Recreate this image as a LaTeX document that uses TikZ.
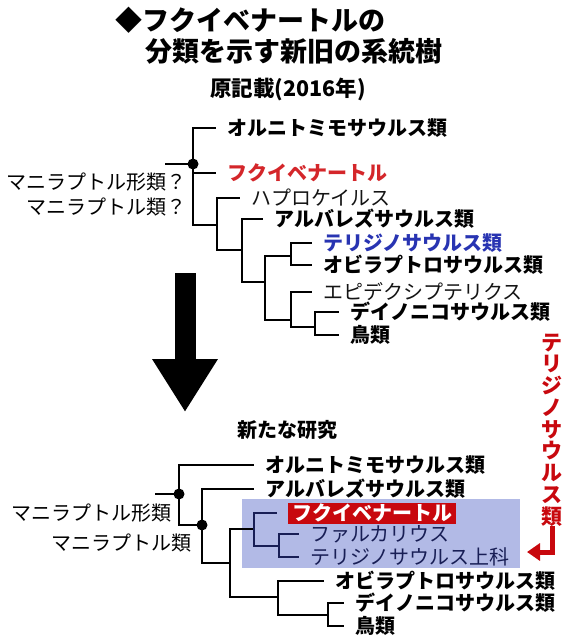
\documentclass[tikz,border=0pt]{standalone}
\usepackage{fontspec}
\setmainfont{Noto Sans CJK JP}
\usetikzlibrary{arrows.meta}

\definecolor{fukured}{RGB}{212,38,42}
\definecolor{boxred}{RGB}{200,8,14}
\definecolor{therblue}{RGB}{40,52,178}
\definecolor{boxblue}{RGB}{178,186,230}
\definecolor{navy}{RGB}{24,30,85}
\definecolor{softblack}{RGB}{20,20,20}

\newcommand{\txtsz}{\fontsize{20}{24}\selectfont}

\begin{document}
\begin{tikzpicture}[x=1pt, y=-1pt,
  branch/.style={line width=1.5pt},
  toleaf/.style={branch, shorten >=11pt},
  leaf/.style={anchor=west, inner sep=0pt, font=\txtsz},
  clade/.style={leaf, font=\txtsz\bfseries},
  side/.style={anchor=east, inner sep=0pt, font=\txtsz},
  dot/.style={circle, fill=black, inner sep=0pt, minimum size=11pt}
]
\useasboundingbox (0,0) rectangle (574,640);

% title
\node[anchor=west, inner sep=0pt, font=\fontsize{27}{30}\selectfont\bfseries] (title1) at (115,20) {◆フクイベナートルの};
\node[anchor=west, inner sep=0pt, font=\fontsize{27}{30}\selectfont\bfseries] (title2) at (145,51) {分類を示す新旧の系統樹};
\node[inner sep=0pt, font=\fontsize{21.5}{24}\selectfont\bfseries] (old) at (288,89) {原記載(2016年)};

% --- old tree
\coordinate (r0) at (165,164);
\coordinate (a0) at (193,164);
\coordinate (a1) at (217,225);
\coordinate (a2) at (242,250);
\coordinate (a3) at (265,282);
\coordinate (a4) at (291,256);
\coordinate (a5) at (291,320);
\coordinate (a6) at (315,327);

\node[clade] (L1) at (227,128) {オルニトミモサウルス類};
\node[clade, text=fukured] (L2) at (227,173) {フクイベナートル};
\node[leaf, text=softblack] (L3) at (251,198) {ハプロケイルス};
\node[clade] (L4) at (274,219) {アルバレズサウルス類};
\node[clade, text=therblue] (L5) at (323,243) {テリジノサウルス類};
\node[clade] (L6) at (323,265) {オビラプトロサウルス類};
\node[leaf, text=softblack] (L7) at (323,292) {エピデクシプテリクス};
\node[clade] (L8) at (350,312) {デイノニコサウルス類};
\node[clade] (L9) at (350,335) {鳥類};

\draw[branch] (r0) -- (a0);
\draw[toleaf] (a0) |- (L1.west);
\draw[toleaf] (a0) |- (L2.west);
\draw[branch] (a0) |- (a1);
\draw[toleaf] (a1) |- (L3.west);
\draw[branch] (a1) |- (a2);
\draw[toleaf] (a2) |- (L4.west);
\draw[branch] (a2) |- (a3);
\draw[branch] (a3) |- (a4);
\draw[branch] (a3) |- (a5);
\draw[toleaf] (a4) |- (L5.west);
\draw[toleaf] (a4) |- (L6.west);
\draw[toleaf] (a5) |- (L7.west);
\draw[branch] (a5) |- (a6);
\draw[toleaf] (a6) |- (L8.west);
\draw[toleaf] (a6) |- (L9.west);
\node[dot] at (a0) {};

\node[side] (maniform1) at (187,182) {マニラプトル形類？};
\node[side] (mani1) at (187,207) {マニラプトル類？};

% big arrow
\coordinate (bigtop) at (185,273);
\coordinate (bigtip) at (185,412);
\draw[line width=21pt, -{Triangle[length=53pt,width=62pt]}] (bigtop) -- (bigtip);

% --- new tree
\node[inner sep=0pt, font=\txtsz\bfseries] (new) at (287,430) {新たな研究};

\fill[boxblue] (242,499) rectangle (520,568);

\coordinate (r1) at (155,494);
\coordinate (b0) at (179,494);
\coordinate (b1) at (202,525);
\coordinate (b2) at (230,563);
\coordinate (b3) at (254,529);
\coordinate (b4) at (278,597);
\coordinate (b5) at (279,546);
\coordinate (b6) at (328,615);

\node[clade] (M1) at (265,465) {オルニトミモサウルス類};
\node[clade] (M2) at (265,489) {アルバレズサウルス類};
\node[anchor=west, fill=boxred, text=white, inner xsep=4pt, inner ysep=0pt,
  minimum height=21pt, font=\txtsz\bfseries] (M3) at (288,513) {フクイベナートル};
\node[leaf, text=navy] (M4) at (310,534) {ファルカリウス};
\node[leaf, text=navy] (M5) at (310,557) {テリジノサウルス上科};
\node[clade] (M6) at (335,581) {オビラプトロサウルス類};
\node[clade] (M7) at (355,603) {デイノニコサウルス類};
\node[clade] (M8) at (355,626) {鳥類};

\draw[branch] (r1) -- (b0);
\draw[toleaf] (b0) |- (M1.west);
\draw[branch] (b0) |- (b1);
\draw[toleaf] (b1) |- (M2.west);
\draw[branch] (b1) |- (b2);
\draw[branch] (b2) |- (b3);
\draw[branch] (b2) |- (b4);
\draw[toleaf, navy] (b3) |- (M3.west);
\draw[branch, navy] (b3) |- (b5);
\draw[toleaf, navy] (b5) |- (M4.west);
\draw[toleaf, navy] (b5) |- (M5.west);
\draw[toleaf] (b4) |- (M6.west);
\draw[branch] (b4) |- (b6);
\draw[toleaf] (b6) |- (M7.west);
\draw[toleaf] (b6) |- (M8.west);
\node[dot] at (b0) {};
\node[dot] at (b1) {};

\node[side] (maniform2) at (172,513) {マニラプトル形類};
\node[side] (mani2) at (192,543) {マニラプトル類};

% moved group
\node[inner sep=0pt, align=center, text=boxred, font=\fontsize{21}{21.75}\selectfont\bfseries] (moved) at (552,430)
  {テ\\リ\\ジ\\ノ\\サ\\ウ\\ル\\ス\\類};
\coordinate (movetip) at (527,552);
\draw[boxred, line width=5pt, -{Triangle[length=13pt,width=17pt]}] (moved.south) |- (movetip);
\end{tikzpicture}
\end{document}
